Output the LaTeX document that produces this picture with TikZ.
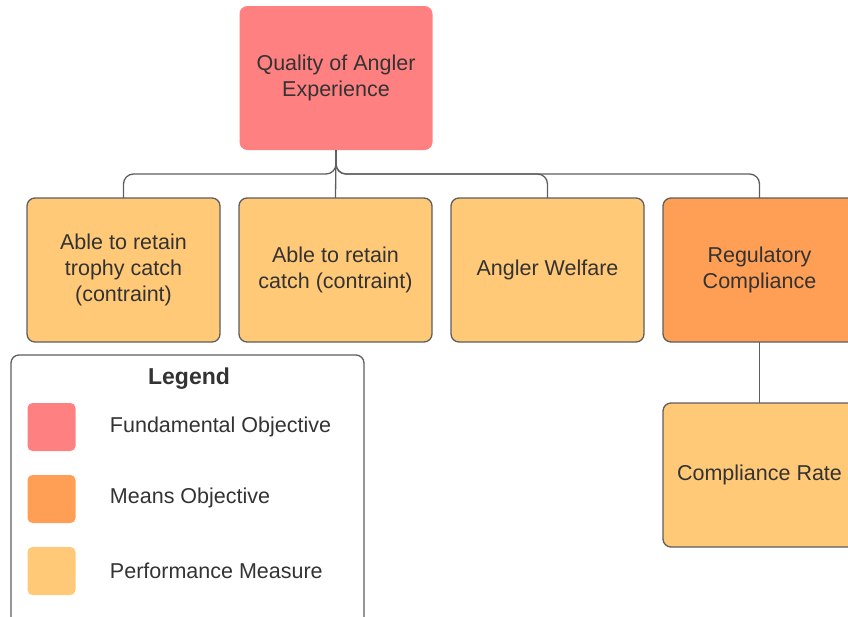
\documentclass[tikz,border=0pt]{standalone}
\usepackage{fontspec}
\setmainfont{Liberation Sans}
\usetikzlibrary{positioning}
\definecolor{fundcol}{HTML}{FF8080}
\definecolor{meanscol}{HTML}{FF9E55}
\definecolor{perfcol}{HTML}{FFC977}
\definecolor{edgecol}{HTML}{5E5E5E}
\definecolor{textcol}{HTML}{333333}

\begin{document}
\begin{tikzpicture}
    [x=1pt,y=-1pt,node distance=19pt,
        line width=1.3pt,
        base node/.style={rectangle,rounded corners=8pt,outer sep=0pt,minimum width=193pt,minimum height=144pt,align=center,text=textcol,font=\fontsize{21.5}{26}\selectfont},
        fund node/.style={base node,fill=fundcol},
        means node/.style={base node,draw=edgecol,fill=meanscol},
        perf node/.style={base node,draw=edgecol,fill=perfcol},
        link/.style={draw=edgecol,rounded corners=10pt},
        swatch/.style={rectangle,rounded corners=5pt,minimum size=48pt},
        key text/.style={anchor=west,text=textcol,font=\fontsize{21.5}{26}\selectfont}]

    \useasboundingbox (0,0) rectangle (848,616);
    \clip (0,0) rectangle (848,616);

    % objectives
    \node[fund node] (quality) at (336,78) {Quality of Angler\\Experience};
    \node[perf node] (trophy) at (123.5,270) {Able to retain\\trophy catch\\(contraint)};
    \node[perf node] (retain) [right=of trophy] {Able to retain\\catch (contraint)};
    \node[perf node] (welfare) [right=of retain] {Angler Welfare};
    \node[means node] (regulatory) [right=of welfare] {Regulatory\\Compliance};
    \node[perf node] (rate) [below=61pt of regulatory] {Compliance Rate};

    \draw[link] (quality.south) -- ++(0,24) -| (trophy.north);
    \draw[link] (quality.south) -- (retain.north);
    \draw[link] (quality.south) -- ++(0,24) -| (welfare.north);
    \draw[link] (quality.south) -- ++(0,24) -| (regulatory.north);
    \draw[link] (regulatory.south) -- (rate.north);

    % legend
    \node[draw=edgecol,fill=white,rounded corners=8pt,minimum width=353pt,minimum height=272pt] (legend) at (187.5,491) {};
    \node[text=textcol,font=\fontsize{23}{27}\bfseries] (legendtitle) at (189,379) {Legend};
    \node[swatch,fill=fundcol] (keyfund) at (51.5,427) {};
    \node[swatch,fill=meanscol] (keymeans) at (51.5,499) {};
    \node[swatch,fill=perfcol] (keyperf) at (51.5,571) {};
    \node[key text] (keyfundtext) at (106,427) {Fundamental Objective};
    \node[key text] (keymeanstext) at (106,498) {Means Objective};
    \node[key text] (keyperftext) at (106,571) {Performance Measure};
\end{tikzpicture}
\end{document}
